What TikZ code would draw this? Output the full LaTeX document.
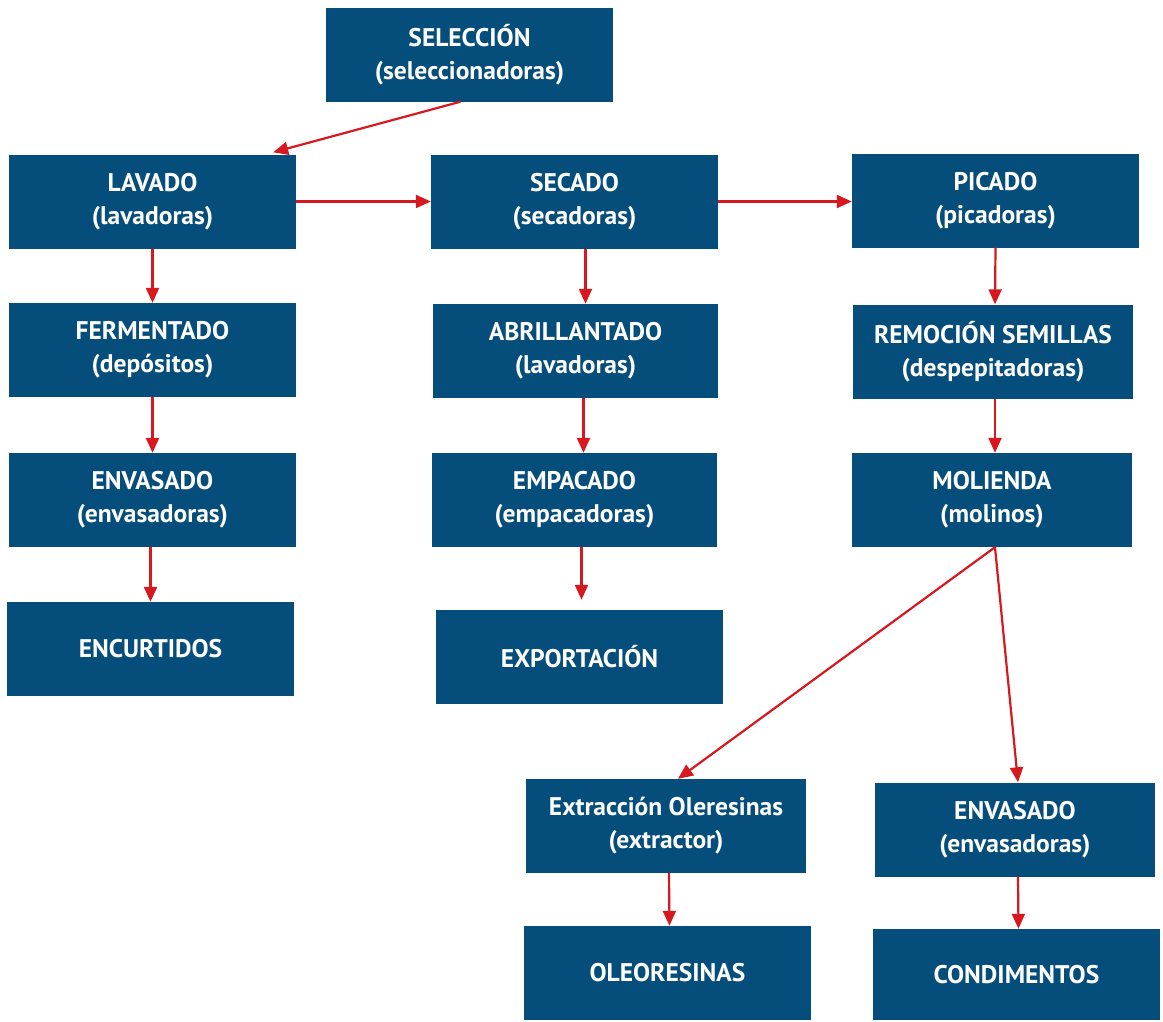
\documentclass[tikz,border=0pt]{standalone}
\usepackage{fontspec}
\setmainfont{PT Sans}
\usetikzlibrary{arrows.meta}
\definecolor{cajaazul}{HTML}{054E7C}
\definecolor{flecharoja}{HTML}{D7181F}
\begin{document}
\begin{tikzpicture}[x=1pt, y=-1pt, >={Triangle[length=15pt,width=13pt]},
    caja/.style={fill=cajaazul, text=white, inner sep=0pt, align=center,
        minimum width=287pt, minimum height=94pt,
        font=\fontsize{25.5}{33}\selectfont\bfseries},
    flecha/.style={->, draw=flecharoja, line width=2.2pt}]
\useasboundingbox (0,0) rectangle (1163,1021);

\node[caja] (seleccion) at (469.5,54.5) {SELECCIÓN\\(seleccionadoras)};
\node[caja] (lavado) at (152.5,201.5) {LAVADO\\(lavadoras)};
\node[caja] (secado) at (574.5,201.5) {SECADO\\(secadoras)};
\node[caja] (picado) at (995.5,200.5) {PICADO\\(picadoras)};

\node[caja] (fermentado) at (152.5,350) {FERMENTADO\\(depósitos)};
\node[caja, minimum width=285pt] (abrillantado) at (575.5,351) {ABRILLANTADO\\(lavadoras)};
\node[caja, minimum width=280pt] (remocion) at (993,351.5) {REMOCIÓN SEMILLAS\\(despepitadoras)};

\node[caja] (envasadoizq) at (152.5,500) {ENVASADO\\(envasadoras)};
\node[caja, minimum width=285pt] (empacado) at (574.5,500) {EMPACADO\\(empacadoras)};
\node[caja, minimum width=280pt] (molienda) at (992,500) {MOLIENDA\\(molinos)};

\node[caja] (encurtidos) at (150.5,649) {ENCURTIDOS};
\node[caja] (exportacion) at (579.5,657) {EXPORTACIÓN};

\node[caja, minimum width=280pt] (extraccion) at (666,826) {Extracción Oleresinas\\(extractor)};
\node[caja, minimum width=280pt] (envasadoder) at (1015,829.5) {ENVASADO\\(envasadoras)};
\node[caja] (oleoresinas) at (667.5,973) {OLEORESINAS};
\node[caja, minimum height=91pt] (condimentos) at (1016.5,974.5) {CONDIMENTOS};

% flechas
\draw[flecha] ([xshift=-9pt]seleccion.south) -- ([xshift=-23pt,yshift=2pt]lavado.north east);
\draw[flecha] (lavado.east) -- (secado.west);
\draw[flecha] (secado.east) -- (secado.east -| picado.west);

\draw[flecha] (lavado.south) -- (fermentado.north);
\draw[flecha] (fermentado.south) -- (envasadoizq.north);
\draw[flecha] ([xshift=-2pt]envasadoizq.south) -- (encurtidos.north);

\draw[flecha] ([xshift=11pt]secado.south) -- ([xshift=10pt]abrillantado.north);
\draw[flecha] ([xshift=8pt]abrillantado.south) -- ([xshift=9pt]empacado.north);
\draw[flecha] ([xshift=7pt]empacado.south) -- ([xshift=2pt,yshift=10pt]exportacion.north);

\draw[flecha] (picado.south) -- ([xshift=2pt]remocion.north);
\draw[flecha] ([xshift=2pt]remocion.south) -- ([xshift=3pt]molienda.north);
\draw[flecha] ([xshift=3pt]molienda.south) -- ([xshift=12pt]extraccion.north);
\draw[flecha] ([xshift=3pt]molienda.south) -- ([xshift=3pt]envasadoder.north);

\draw[flecha] ([xshift=3pt]extraccion.south) -- ([xshift=2pt]oleoresinas.north);
\draw[flecha] ([xshift=3pt]envasadoder.south) -- ([xshift=2pt]condimentos.north);

\end{tikzpicture}
\end{document}
